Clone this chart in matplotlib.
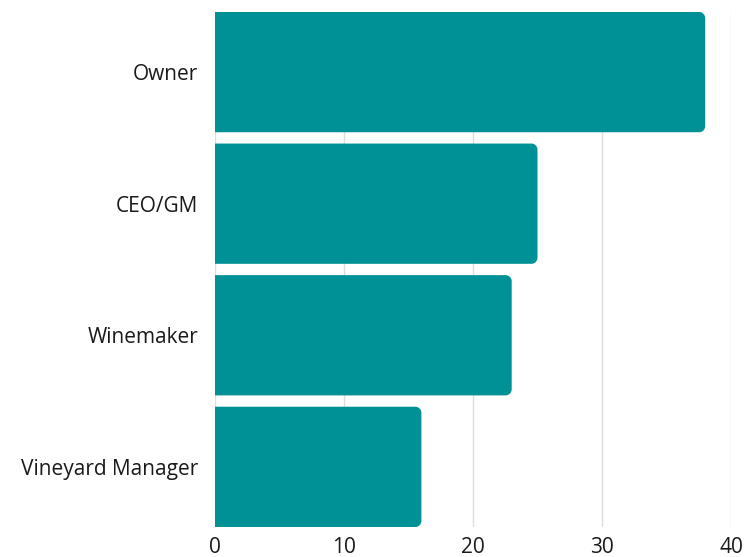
import matplotlib
matplotlib.use("Agg")
import matplotlib.pyplot as plt
from matplotlib.patches import PathPatch
from matplotlib.path import Path

# data
roles  = ["Owner", "CEO/GM", "Winemaker", "Vineyard Manager"]
counts = [38, 25, 23, 16]
xticks = [0, 10, 20, 30, 40]

TEAL = "#009196"
plt.rcParams["font.family"] = ["Open Sans", "DejaVu Sans"]


def right_rounded(x, y, w, h, rx, ry):
    # bar outline with square left side and rounded right corners
    k = 0.5523
    verts = [(x, y), (x + w - rx, y),
             (x + w - rx + k * rx, y), (x + w, y + ry - k * ry), (x + w, y + ry),
             (x + w, y + h - ry),
             (x + w, y + h - ry + k * ry), (x + w - rx + k * rx, y + h), (x + w - rx, y + h),
             (x, y + h), (x, y)]
    codes = [Path.MOVETO, Path.LINETO,
             Path.CURVE4, Path.CURVE4, Path.CURVE4,
             Path.LINETO,
             Path.CURVE4, Path.CURVE4, Path.CURVE4,
             Path.LINETO, Path.CLOSEPOLY]
    return Path(verts, codes)


fig = plt.figure(figsize=(7.53, 5.57), dpi=100)
ax = fig.add_axes([0.2855, 0.0539, 0.6853, 0.9246])

bar_h = 0.914
bars = ax.barh(range(len(roles)), counts, height=bar_h, color=TEAL, zorder=2)

# swap plain bars for ones with rounded right corners (~6 px radius)
for b in bars:
    b.set_visible(False)
    ax.add_patch(PathPatch(right_rounded(b.get_x(), b.get_y(), b.get_width(),
                                         b.get_height(), 0.47, 0.046),
                           fc=TEAL, ec="none", zorder=2))

ax.set_xlim(0, 40)
ax.set_ylim(len(roles) - 1 + bar_h / 2, -bar_h / 2)
ax.set_xticks(xticks)
ax.set_yticks(range(len(roles)))
ax.set_yticklabels(roles)
ax.tick_params(length=0, labelsize=15, colors="#1a1a1a")
ax.tick_params(axis="y", pad=12)
ax.tick_params(axis="x", pad=7)
ax.grid(axis="x", color="#dddddd", linewidth=1, zorder=0)
for s in ax.spines.values():
    s.set_visible(False)

fig.savefig("out.png", dpi=100)
